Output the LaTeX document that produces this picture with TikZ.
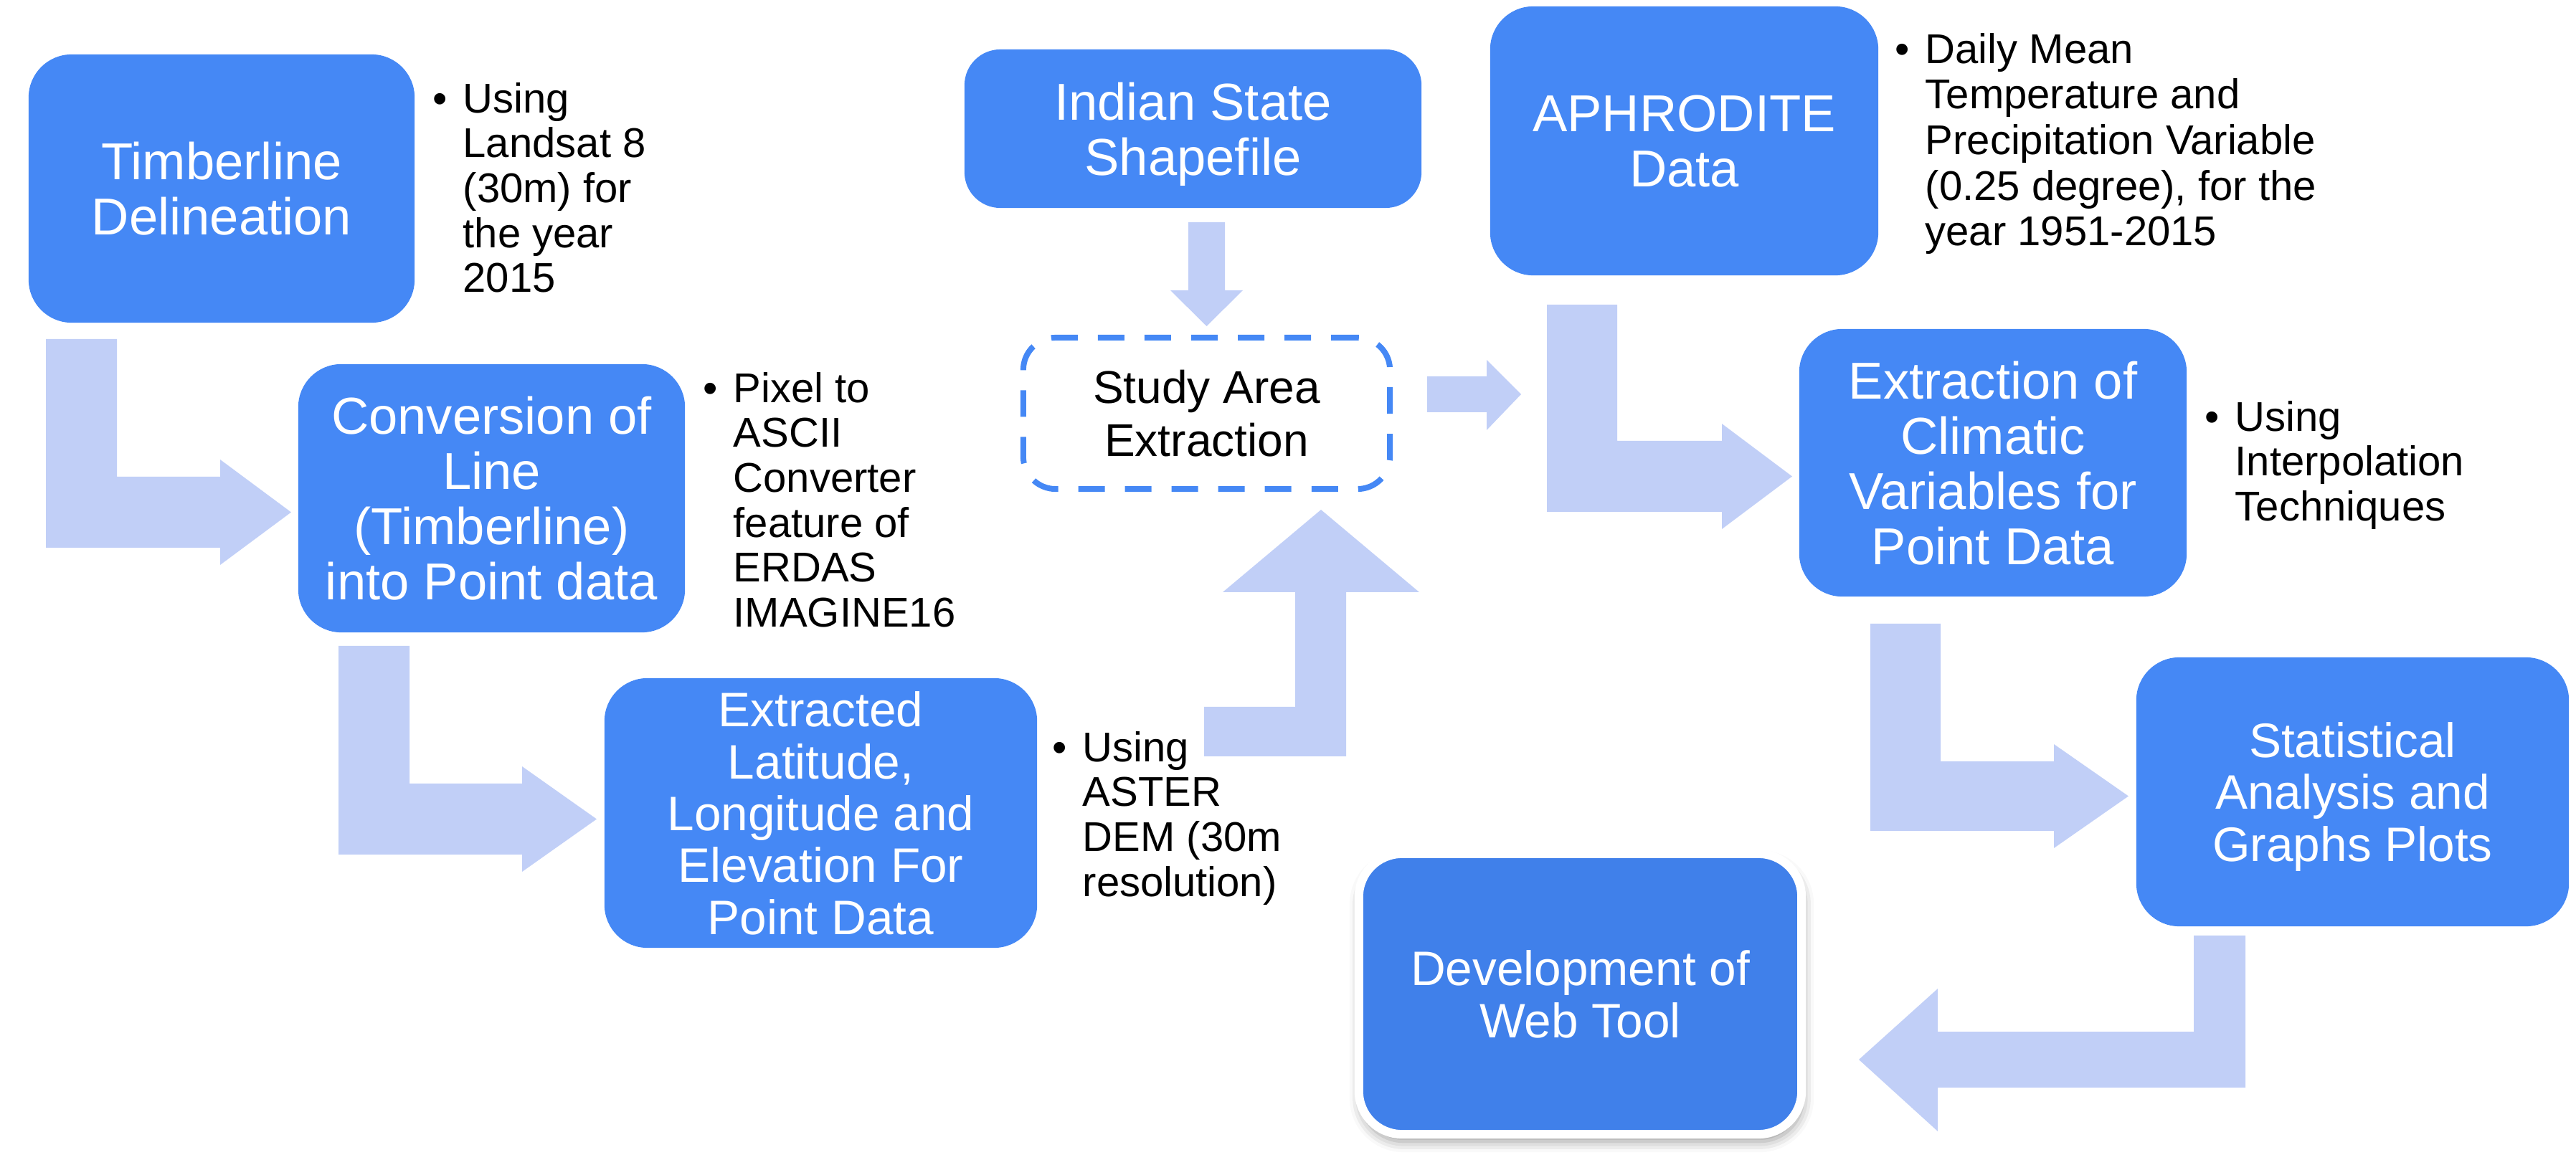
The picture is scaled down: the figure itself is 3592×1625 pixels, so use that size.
\documentclass[tikz,border=0pt]{standalone}
\usepackage{fontspec}
\setmainfont{Liberation Sans}
\usetikzlibrary{shadows.blur}

\definecolor{boxblue}{RGB}{69,136,245}
\definecolor{webblue}{RGB}{64,128,234}
\definecolor{arrowfill}{RGB}{193,207,247}

\tikzset{
    box/.style={rectangle, rounded corners=0.6cm, fill=boxblue, text=white, align=center, inner sep=0pt, text depth=0pt, font=\fontsize{20.6pt}{21.9pt}\selectfont},
    boxsmall/.style={box, font=\fontsize{19.2pt}{20.6pt}\selectfont},
    dashbox/.style={rectangle, draw=boxblue, line width=0.08cm, dash pattern=on 0.37cm off 0.28cm, rounded corners=0.45cm, align=center, inner sep=0pt, font=\fontsize{18.2pt}{21pt}\selectfont},
    note/.style={anchor=north west, align=left, inner sep=0pt, font=\fontsize{16.5pt}{17.8pt}\selectfont},
    arr/.style={fill=arrowfill},
}
\newcommand{\bul}{\llap{\textbullet\hspace{0.22cm}}}

\begin{document}
\begin{tikzpicture}[x=0.01cm, y=-0.01cm]
            \useasboundingbox (0,0) rectangle (3592,1625);

            \fill[arr] (64,473) -- (163,473) -- (163,665) -- (307,665) -- (307,641) -- (406,714.5) -- (307,788) -- (307,764) -- (64,764) -- cycle;
            \fill[arr] (472,901) -- (571,901) -- (571,1093) -- (728,1093) -- (728,1069) -- (832,1142.5) -- (728,1216) -- (728,1192) -- (472,1192) -- cycle;
            \fill[arr] (1679,1055) -- (1877,1055) -- (1877,826) -- (1979,826) -- (1842,711) -- (1705,826) -- (1806,826) -- (1806,986) -- (1679,986) -- cycle;
            \fill[arr] (1657,310) -- (1708,310) -- (1708,405) -- (1733,405) -- (1682.5,455) -- (1632,405) -- (1657,405) -- cycle;
            \fill[arr] (1990,525) -- (2073,525) -- (2073,502) -- (2121,550) -- (2073,600) -- (2073,575) -- (1990,575) -- cycle;
            \fill[arr] (2157,425) -- (2255,425) -- (2255,615) -- (2401,615) -- (2401,591) -- (2499,664.5) -- (2401,738) -- (2401,714) -- (2157,714) -- cycle;
            \fill[arr] (2608,870) -- (2706,870) -- (2706,1062) -- (2864,1062) -- (2864,1038) -- (2968,1110.5) -- (2864,1183) -- (2864,1159) -- (2608,1159) -- cycle;
            \fill[arr] (3059,1305) -- (3131,1305) -- (3131,1517) -- (2702,1517) -- (2702,1578) -- (2592,1478) -- (2702,1379) -- (2702,1439) -- (3059,1439) -- cycle;

            \node[box, minimum width=5.38cm, minimum height=3.74cm] (tim) at (309,263) {Timberline\\Delineation};
            \node[box, minimum width=5.39cm, minimum height=3.74cm] (conv) at (685.5,695) {Conversion of\\Line\\(Timberline)\\into Point data};
            \node[boxsmall, minimum width=6.03cm, minimum height=3.76cm] (extr) at (1144.5,1134) {Extracted\\Latitude,\\Longitude and\\Elevation For\\Point Data};
            \node[box, rounded corners=0.5cm, minimum width=6.37cm, minimum height=2.21cm] (shape) at (1663.5,179.5) {Indian State\\Shapefile};
            \node[dashbox, minimum width=5.11cm, minimum height=2.11cm] (study) at (1682.5,576.5) {Study Area\\Extraction};
            \node[box, minimum width=5.41cm, minimum height=3.75cm] (aphro) at (2348.5,196.5) {APHRODITE\\Data};
            \node[box, minimum width=5.40cm, minimum height=3.73cm] (clim) at (2779,645.5) {Extraction of\\Climatic\\Variables for\\Point Data};
            \node[boxsmall, minimum width=6.03cm, minimum height=3.75cm] (stat) at (3280.5,1104.5) {Statistical\\Analysis and\\Graphs Plots};
            \node[boxsmall, fill=webblue, draw=white, line width=0.12cm, minimum width=6.17cm, minimum height=3.91cm,
                blur shadow={shadow xshift=0.02cm, shadow yshift=-0.1cm, shadow blur radius=0.15cm, shadow opacity=40}] (web) at (2203.5,1386.5) {Development of\\Web Tool};

            \node[note] (n1) at (645,114.5) {\bul Using\\Landsat 8\\(30m) for\\the year\\2015};
            \node[note] (n2) at (1022,518.5) {\bul Pixel to\\ASCII\\Converter\\feature of\\ERDAS\\IMAGINE16};
            \node[note] (n3) at (1509,1019.5) {\bul Using\\ASTER\\DEM (30m\\resolution)};
            \node[note, font=\fontsize{16.5pt}{18.1pt}\selectfont] (n4) at (2684,45.5) {\bul Daily Mean\\Temperature and\\Precipitation Variable\\(0.25 degree), for the\\year 1951-2015};
            \node[note] (n5) at (3116,558.5) {\bul Using\\Interpolation\\Techniques};
\end{tikzpicture}
\end{document}
